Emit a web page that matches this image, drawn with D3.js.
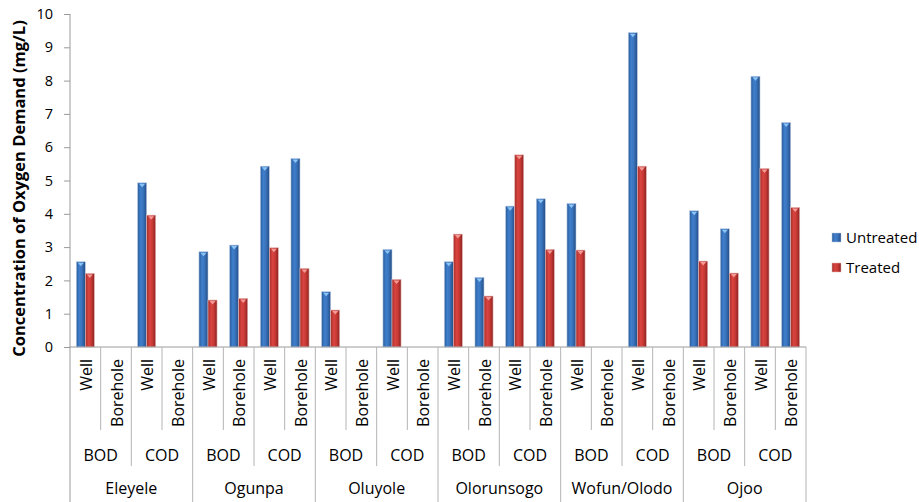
<!DOCTYPE html>
<html><head><meta charset="utf-8">
<script src="https://cdn.jsdelivr.net/npm/d3@7"></script>
<style>body{margin:0;background:#fff}svg{display:block}text{font-family:"Open Sans",sans-serif;fill:#000}</style>
</head><body><svg id="c" width="919" height="502"></svg>
<script>
const locations = ["Eleyele","Ogunpa","Oluyole","Olorunsogo","Wofun/Olodo","Ojoo"];
const demands = ["BOD","COD"];
const sources = ["Well","Borehole"];
const seriesNames = ["Untreated","Treated"];
// order: location > BOD/COD > Well/Borehole
const untreated = [2.56,0,4.93,0, 2.86,3.06,5.43,5.66, 1.66,0,2.93,0, 2.56,2.09,4.23,4.45, 4.31,0,9.44,0, 4.09,3.55,8.13,6.74];
const treated   = [2.21,0,3.96,0, 1.41,1.46,2.98,2.36, 1.11,0,2.03,0, 3.39,1.53,5.77,2.93, 2.91,0,5.43,0, 2.58,2.22,5.36,4.19];
const yTicks = [0,1,2,3,4,5,6,7,8,9,10];

const cats = [];
locations.forEach((l,li)=>demands.forEach((d,di)=>sources.forEach((s,si)=>cats.push({loc:l,dem:d,src:s,key:l+"|"+d+"|"+s}))));
const data = cats.map((c,i)=>({...c, vals:[untreated[i],treated[i]]}));

const svg = d3.select("#c");
const L=70,R=806,T=14,B=347;
const x = d3.scaleBand().domain(cats.map(c=>c.key)).range([L,R]).padding(0);
const cw = x.bandwidth();
const gw = cw*0.59;
const xi = d3.scaleBand().domain(seriesNames).range([(cw-gw)/2,(cw+gw)/2]).padding(0);
const y = d3.scaleLinear().domain([0,10]).range([B,T]);

const defs = svg.append("defs");
function grad(id, stops){
  const g = defs.append("linearGradient").attr("id",id).attr("x1","0").attr("x2","1").attr("y1","0").attr("y2","0");
  stops.forEach(s=>g.append("stop").attr("offset",s[0]).attr("stop-color",s[1]));
}
grad("gU",[[0,"#2c5c9c"],[0.35,"#3f7fcc"],[0.6,"#3a74bd"],[1,"#254e86"]]);
grad("gT",[[0,"#a52f2c"],[0.35,"#d9443f"],[0.6,"#cc3b37"],[1,"#8e2421"]]);
const fills = {Untreated:"url(#gU)",Treated:"url(#gT)"};
const caps = {Untreated:"#8cc3f5",Treated:"#f39a96"};
const edges = {Untreated:"#b9cbe3",Treated:"#e3b9b8"};

// y axis
const yAxis = d3.axisLeft(y).tickValues(yTicks).tickSize(6).tickPadding(11);
const ga = svg.append("g").attr("transform",`translate(${L},0)`).call(yAxis);
ga.select(".domain").remove();
ga.selectAll(".tick line").attr("stroke","#9a9a9a");
ga.selectAll(".tick text").style("font-size","14.5px").style("font-family","Open Sans").attr("fill","#000");
svg.append("line").attr("x1",L).attr("x2",L).attr("y1",T).attr("y2",502).attr("stroke","#9a9a9a");

// bars
const g = svg.append("g");
const cell = g.selectAll("g.cell").data(data).join("g").attr("transform",d=>`translate(${x(d.key)},0)`);
seriesNames.forEach((s,si)=>{
  cell.filter(d=>d.vals[si]>0).append("rect")
    .attr("x",xi(s)).attr("width",xi.bandwidth())
    .attr("y",d=>y(d.vals[si])).attr("height",d=>B-y(d.vals[si]))
    .attr("fill",fills[s]).attr("stroke",edges[s]).attr("stroke-width",0.6);
  cell.filter(d=>d.vals[si]>0).append("path")
    .attr("d",d=>{const x0=xi(s)+1.5,x1=xi(s)+xi.bandwidth()-1.5,yy=y(d.vals[si])+1;return `M${x0},${yy}L${x1},${yy}L${(x0+x1)/2},${yy+3.5}Z`;})
    .attr("fill",caps[s]);
});

// x axis line
svg.append("line").attr("x1",L).attr("x2",R).attr("y1",B).attr("y2",B).attr("stroke","#9a9a9a");

// separators
const sep = "#b4b4b4";
for(let i=1;i<=cats.length;i++){
  const xx = i<cats.length ? x(cats[i].key) : R;
  let y2;
  if(i===cats.length || i%4===0) y2=502; else if(i%2===0) y2=466; else y2=430;
  svg.append("line").attr("x1",xx).attr("x2",xx).attr("y1",B).attr("y2",y2).attr("stroke",sep);
}

// leaf labels
data.forEach(d=>{
  const cx = x(d.key)+cw/2;
  svg.append("text").attr("transform",`translate(${cx+6.5},359) rotate(-90)`)
    .attr("text-anchor","end").style("font-size","16px").text(d.src);
});
// demand labels
locations.forEach((l,li)=>demands.forEach((dm,di)=>{
  const k0 = x(l+"|"+dm+"|Well");
  svg.append("text").attr("x",k0+cw).attr("y",461).attr("text-anchor","middle").style("font-size","16px").text(dm);
}));
// location labels
locations.forEach(l=>{
  const k0 = x(l+"|BOD|Well");
  svg.append("text").attr("x",k0+cw*2).attr("y",494).attr("text-anchor","middle").style("font-size","16px").text(l);
});

// y title
svg.append("text").attr("transform","translate(25,188.5) rotate(-90)").attr("text-anchor","middle")
  .style("font-size","16.5px").style("font-weight","bold").text("Concentration of Oxygen Demand (mg/L)");

// legend
const lg = svg.append("g");
seriesNames.forEach((s,i)=>{
  const yy = 233 + i*30;
  lg.append("rect").attr("x",832).attr("y",yy).attr("width",9).attr("height",9).attr("fill",fills[s]).attr("stroke",edges[s]).attr("stroke-width",0.5);
  lg.append("text").attr("x",846).attr("y",yy+9.5).style("font-size","15px").text(s);
});
</script></body></html>
